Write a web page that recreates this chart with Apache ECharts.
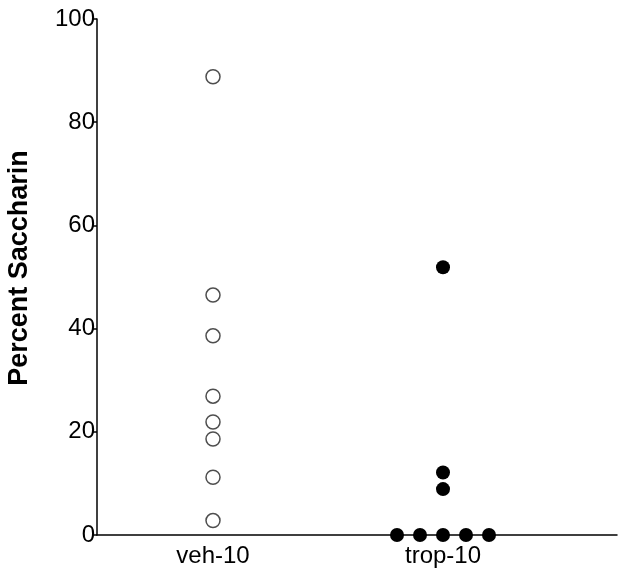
<!DOCTYPE html>
<html>
<head>
<meta charset="utf-8">
<script src="https://cdn.jsdelivr.net/npm/echarts@6/dist/echarts.min.js"></script>
<style>
  html, body { margin: 0; padding: 0; background: #fff; }
  #chart { width: 624px; height: 576px; }
</style>
</head>
<body>
<div id="chart"></div>
<script>
const groups = ['veh-10', 'trop-10'];
const groupPos = [1, 2];

const vehValues = [88.8, 46.5, 38.6, 26.9, 21.9, 18.6, 11.2, 2.8];
const tropValues = [51.9, 12.1, 8.9, 0, 0, 0, 0, 0];
// horizontal spread of the stacked zero points around the group centre
const tropOffsets = [0, 0, 0, -0.2, -0.1, 0, 0.1, 0.2];

const yTicks = [0, 20, 40, 60, 80, 100];

const vehData = vehValues.map(v => [groupPos[0], v]);
const tropData = tropValues.map((v, i) => [groupPos[1] + tropOffsets[i], v]);

const chart = echarts.init(document.getElementById('chart'));

chart.setOption({
  animation: false,
  textStyle: { fontFamily: 'Liberation Sans, Arial, sans-serif' },
  grid: { left: 97, right: 7, top: 19, bottom: 41, containLabel: false, outerBoundsMode: 'none' },
  xAxis: {
    type: 'value',
    min: 1 - 116 / 230,
    max: 2 + 174 / 230,
    splitLine: { show: false },
    axisLine: { show: true, onZero: false, lineStyle: { color: '#000', width: 1.5 } },
    axisTick: { show: false },
    axisLabel: {
      customValues: groupPos,
      margin: 9,
      fontSize: 24,
      color: '#000',
      formatter: v => groups[groupPos.indexOf(Math.round(v))] || ''
    }
  },
  yAxis: {
    type: 'value',
    min: 0,
    max: 100,
    interval: 20,
    name: 'Percent Saccharin',
    nameLocation: 'middle',
    nameGap: 64,
    nameTextStyle: { fontSize: 27, fontWeight: 'bold', color: '#000', padding: [0, 0, 0, 18] },
    splitLine: { show: false },
    axisLine: { show: true, lineStyle: { color: '#000', width: 1.5 } },
    axisTick: { show: true, length: 4, lineStyle: { color: '#000', width: 1.5 } },
    axisLabel: {
      customValues: yTicks,
      margin: 2,
      fontSize: 24,
      color: '#000'
    }
  },
  series: [
    {
      type: 'scatter',
      data: vehData,
      symbol: 'circle',
      symbolSize: 14,
      itemStyle: { color: '#fff', borderColor: '#222', borderWidth: 1.5 },
      z: 3
    },
    {
      type: 'scatter',
      data: tropData,
      symbol: 'circle',
      symbolSize: 14,
      itemStyle: { color: '#000', opacity: 1 },
      z: 3
    }
  ]
});
</script>
</body>
</html>
